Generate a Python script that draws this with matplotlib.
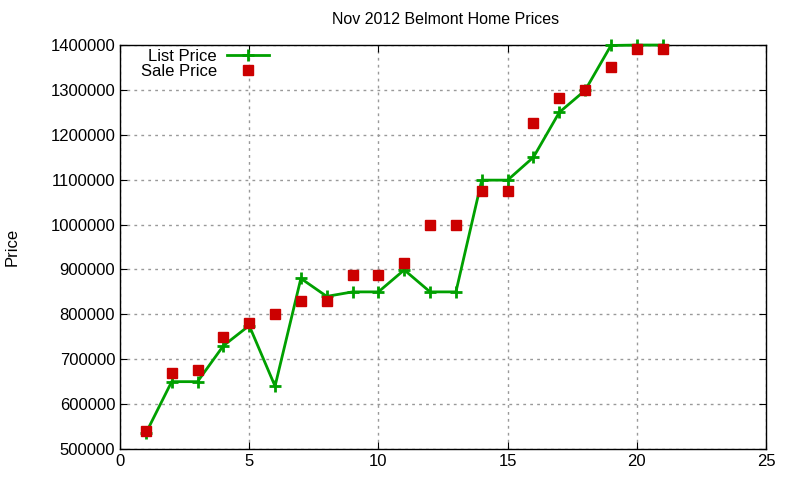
import matplotlib
matplotlib.use('Agg')
import matplotlib.pyplot as plt

plt.rcParams['font.family'] = ['Liberation Sans', 'DejaVu Sans']

homes = list(range(1, 22))
list_price = [535000, 650000, 650000, 730000, 775000, 640000, 880000, 840000, 850000, 850000,
              899000, 850000, 850000, 1099000, 1099000, 1150000, 1250000, 1299000, 1399000,
              1400000, 1400000]
sale_price = [540000, 670000, 675000, 750000, 780000, 800000, 830000, 830000, 888000, 888000,
              915000, 1000000, 1000000, 1075000, 1075000, 1227000, 1282000, 1300000, 1350000,
              1391000, 1391000]

fig = plt.figure(figsize=(8, 4.8), dpi=100)
ax = fig.add_axes([0.15, 0.0646, 0.8075, 0.8416])

ax.plot(homes, list_price, color='#00a000', lw=2, marker='+', ms=8, mew=2,
        label='List Price', clip_on=False, zorder=3)
ax.plot(homes, sale_price, color='#cc0000', ls='none', marker='s', ms=7,
        label='Sale Price', clip_on=False, zorder=4)

ax.set_xlim(0, 25)
ax.set_ylim(500000, 1400000)
ax.set_xticks(range(0, 26, 5))
ax.set_yticks(range(500000, 1400001, 100000))
ax.ticklabel_format(axis='y', style='plain', useOffset=False)
ax.grid(True, color='#999999', ls=(0, (2, 3)), lw=1)
ax.tick_params(direction='in', top=True, right=True, labelsize=12, length=5)
for s in ax.spines.values():
    s.set_linewidth(1)

fig.text(0.5575, 1 - 20 / 480, 'Nov 2012 Belmont Home Prices', fontsize=11.5,
         ha='center', va='center')
fig.text(12 / 800, 1 - 247 / 480, 'Price', fontsize=12, rotation=90,
         ha='center', va='center')

ax.legend(loc='upper left', bbox_to_anchor=(0.014, 1.02), frameon=False, markerfirst=False,
          fontsize=12, handlelength=2.5, handletextpad=0.6, labelspacing=0.0,
          borderaxespad=0.3)

fig.savefig('out.png', dpi=100)
